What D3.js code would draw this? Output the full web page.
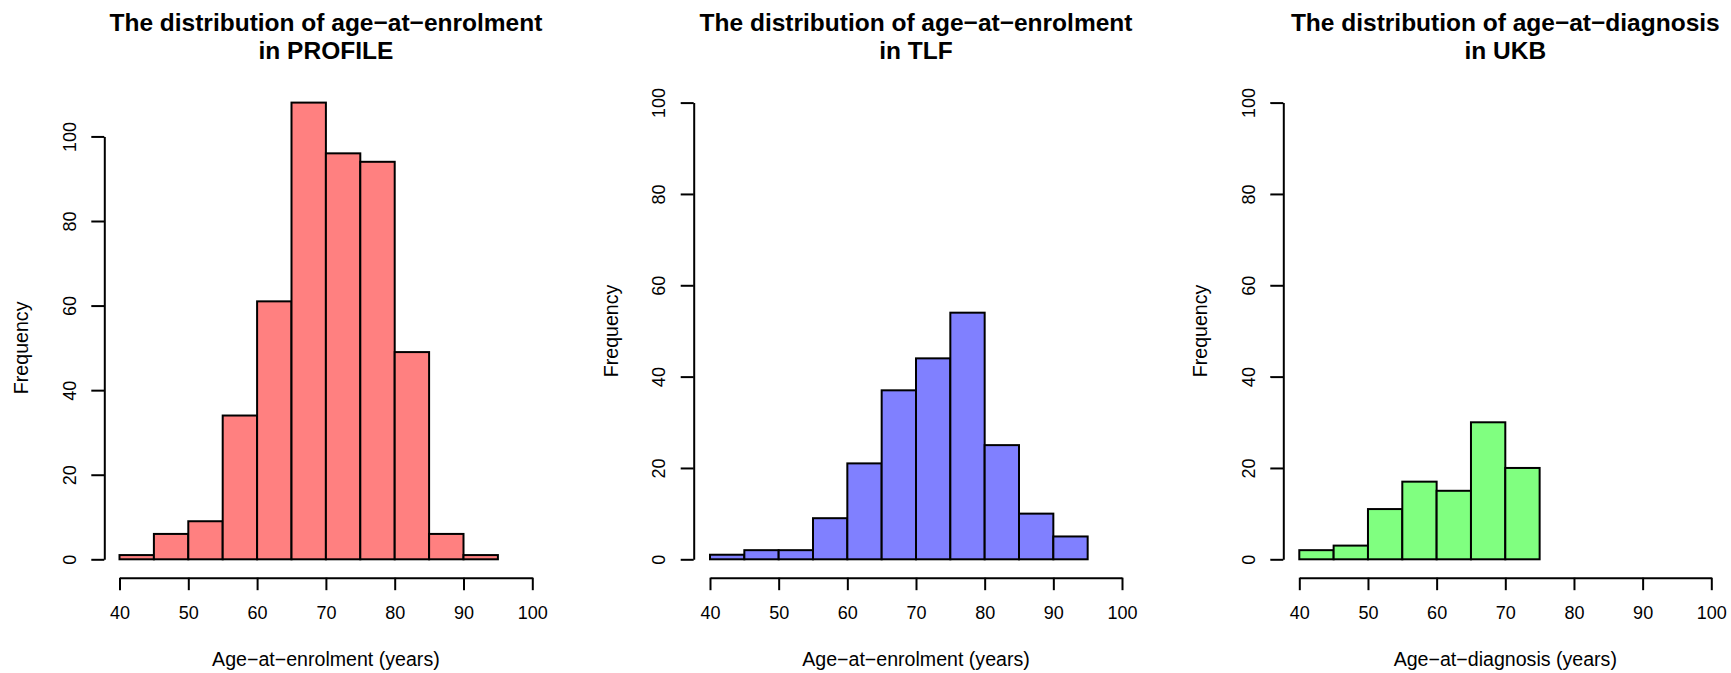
<!DOCTYPE html>
<html>
<head>
<meta charset="utf-8">
<script src="https://cdn.jsdelivr.net/npm/d3@7/dist/d3.min.js"></script>
<style>
  html, body { margin: 0; padding: 0; background: #fff; }
  svg { display: block; font-family: "Liberation Sans", Arial, sans-serif; }
</style>
</head>
<body>
<svg id="chart" width="1731" height="673"></svg>
<script>
// ---- data ----
const binEdges = [40, 45, 50, 55, 60, 65, 70, 75, 80, 85, 90, 95];
const profileCounts = [1, 6, 9, 34, 61, 108, 96, 94, 49, 6, 1];
const tlfCounts = [1, 2, 2, 9, 21, 37, 44, 54, 25, 10, 5];
const ukbCounts = [2, 3, 11, 17, 15, 30, 20];
const xTicks = [40, 50, 60, 70, 80, 90, 100];
const yTicks = [0, 20, 40, 60, 80, 100];
const titlesLine1 = ["The distribution of age\u2212at\u2212enrolment", "The distribution of age\u2212at\u2212enrolment", "The distribution of age\u2212at\u2212diagnosis"];
const titlesLine2 = ["in PROFILE", "in TLF", "in UKB"];
const xLabels = ["Age\u2212at\u2212enrolment (years)", "Age\u2212at\u2212enrolment (years)", "Age\u2212at\u2212diagnosis (years)"];
const yLabel = "Frequency";
const fills = ["#FF8080", "#8080FF", "#80FF80"];
const yMax = [108, 100, 100];

// ---- layout ----
const layout = [
  { axisX: 104.3, x40: 119.5, x100: 532.3 },
  { axisX: 693.7, x40: 710.0, x100: 1122.0 },
  { axisX: 1283.3, x40: 1299.3, x100: 1711.3 }
];
const yBottom = 559.3, yTop = 102.6;
const xAxisY = 577.7;
const tickFont = 18;
const labelFont = 19.6;
const titleFont = 24.5;

const svg = d3.select("#chart");
const seriesList = [profileCounts, tlfCounts, ukbCounts];

seriesList.forEach((counts, i) => {
  const L = layout[i];
  const g = svg.append("g");
  const x = d3.scaleLinear().domain([40, 100]).range([L.x40, L.x100]);
  const y = d3.scaleLinear().domain([0, yMax[i]]).range([yBottom, yTop]);

  const bins = counts.map((c, k) => ({ x0: binEdges[k], x1: binEdges[k + 1], n: c }));

  g.selectAll("rect.bar").data(bins).join("rect")
    .attr("class", "bar")
    .attr("x", d => x(d.x0))
    .attr("width", d => x(d.x1) - x(d.x0))
    .attr("y", d => y(d.n))
    .attr("height", d => y(0) - y(d.n))
    .attr("fill", fills[i])
    .attr("stroke", "#000")
    .attr("stroke-width", 2);

  // x axis
  const xAxis = d3.axisBottom(x).tickValues(xTicks).tickSize(12.5).tickSizeOuter(0).tickPadding(16.5).tickFormat(d3.format("d"));
  const gx = g.append("g").attr("transform", `translate(0,${xAxisY})`).call(xAxis);
  gx.select(".domain").attr("stroke", "#000").attr("stroke-width", 2);
  gx.selectAll(".tick line").attr("stroke", "#000").attr("stroke-width", 2);
  gx.selectAll(".tick text").attr("font-size", tickFont).attr("fill", "#000")
    .attr("font-family", "Liberation Sans, Arial, sans-serif");

  // y axis (line spans 0..100)
  const yAx = d3.scaleLinear().domain([0, 100]).range([yBottom, y(100)]);
  const yAxis = d3.axisLeft(yAx).tickValues(yTicks).tickSize(13).tickSizeOuter(0).tickFormat(d3.format("d"));
  const gy = g.append("g").attr("transform", `translate(${L.axisX},0)`).call(yAxis);
  gy.select(".domain").attr("stroke", "#000").attr("stroke-width", 2);
  gy.selectAll(".tick line").attr("stroke", "#000").attr("stroke-width", 2);
  gy.selectAll(".tick text")
    .attr("font-size", tickFont).attr("fill", "#000")
    .attr("font-family", "Liberation Sans, Arial, sans-serif")
    .attr("transform", "rotate(-90)")
    .attr("x", 0).attr("y", -35).attr("dy", "0.35em")
    .attr("text-anchor", "middle");

  // plot region center
  const cx = (L.x40 + L.x100) / 2;

  // titles
  g.append("text").attr("x", cx).attr("y", 30.7).attr("text-anchor", "middle")
    .attr("font-size", titleFont).attr("font-weight", "bold").text(titlesLine1[i]);
  g.append("text").attr("x", cx).attr("y", 59).attr("text-anchor", "middle")
    .attr("font-size", titleFont).attr("font-weight", "bold").text(titlesLine2[i]);

  // x label
  g.append("text").attr("x", cx).attr("y", 665.8).attr("text-anchor", "middle")
    .attr("font-size", labelFont).text(xLabels[i]);

  // y label
  g.append("text")
    .attr("transform", `translate(${L.axisX - 83},${(yBottom + y(100)) / 2}) rotate(-90)`)
    .attr("text-anchor", "middle").attr("dy", "0.35em")
    .attr("font-size", labelFont).text(yLabel);
});
</script>
</body>
</html>
